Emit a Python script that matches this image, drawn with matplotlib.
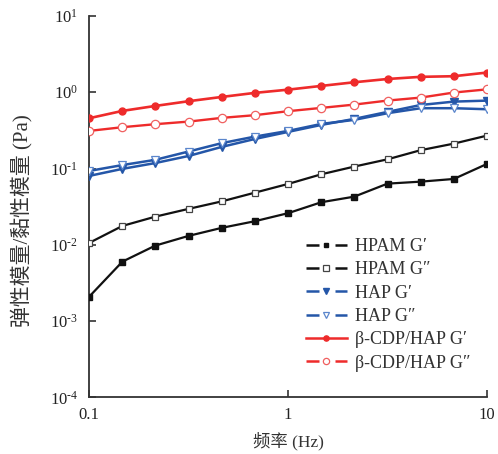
import matplotlib
matplotlib.use("Agg")
import matplotlib.pyplot as plt
from matplotlib.lines import Line2D
from matplotlib.ticker import FixedLocator, FixedFormatter, NullLocator

freq = [0.1, 0.147, 0.215, 0.316, 0.464, 0.681, 1.0, 1.47, 2.15, 3.16, 4.64, 6.81, 10.0]

hpam_g1 = [0.00209, 0.00603, 0.00977, 0.0131, 0.0167, 0.0204, 0.026, 0.0362, 0.0428, 0.0634, 0.0673, 0.073, 0.115]
hpam_g2 = [0.0106, 0.0177, 0.0234, 0.0296, 0.0371, 0.0483, 0.0628, 0.0841, 0.106, 0.132, 0.174, 0.212, 0.27]
hap_g1 = [0.080, 0.099, 0.118, 0.146, 0.192, 0.244, 0.302, 0.373, 0.447, 0.552, 0.68, 0.753, 0.776]
hap_g2 = [0.093, 0.111, 0.130, 0.167, 0.215, 0.262, 0.311, 0.384, 0.434, 0.531, 0.617, 0.617, 0.598]
cdp_g1 = [0.456, 0.569, 0.661, 0.762, 0.867, 0.98, 1.08, 1.21, 1.35, 1.49, 1.59, 1.62, 1.81]
cdp_g2 = [0.311, 0.348, 0.381, 0.412, 0.461, 0.50, 0.564, 0.623, 0.688, 0.777, 0.85, 0.99, 1.09]

labels = ["HPAM G\u2032", "HPAM G\u2033", "HAP G\u2032", "HAP G\u2033",
          "\u03b2-CDP/HAP G\u2032", "\u03b2-CDP/HAP G\u2033"]

xticks = [0.1, 1, 10]
xticklabels = ["0.1", "1", "10"]
yticks = [1e-4, 1e-3, 1e-2, 1e-1, 1e0, 1e1]
yticklabels = [r"$10^{\text{-}4}$", r"$10^{\text{-}3}$", r"$10^{\text{-}2}$",
               r"$10^{\text{-}1}$", r"$10^{0}$", r"$10^{1}$"]

plt.rcParams['font.family'] = ['Liberation Serif', 'Noto Sans CJK SC', 'DejaVu Sans']
plt.rcParams['mathtext.fontset'] = 'custom'
plt.rcParams['mathtext.rm'] = 'Liberation Serif'
plt.rcParams['mathtext.it'] = 'Liberation Serif'
plt.rcParams['mathtext.default'] = 'rm'

fig = plt.figure(figsize=(4.98, 4.54), dpi=100)
ax = fig.add_axes([0.179, 0.1245, 0.799, 0.8405])

black = '#111111'
blue = '#2456a8'
red = '#ee2b2b'

series = [
    (hpam_g1, dict(color=black, marker='s', mfc=black, mec=black, ms=4.5, lw=1.6)),
    (hpam_g2, dict(color=black, marker='s', mfc='white', mec='#444444', ms=5, mew=0.9, lw=1.6)),
    (hap_g1, dict(color=blue, marker='v', mfc=blue, mec=blue, ms=5.5, lw=1.8)),
    (hap_g2, dict(color=blue, marker='v', mfc='white', mec='#5b86cc', ms=6, mew=0.9, lw=1.8)),
    (cdp_g1, dict(color=red, marker='o', mfc=red, mec=red, ms=5, lw=1.9)),
    (cdp_g2, dict(color=red, marker='o', mfc='white', mec='#f06060', ms=6, mew=0.9, lw=1.7)),
]
for vals, kw in series:
    ax.plot(freq, vals, zorder=3, **kw)

ax.set_xscale('log')
ax.set_yscale('log')
ax.set_xlim(0.1, 10)
ax.set_ylim(1e-4, 10)
ax.xaxis.set_major_locator(FixedLocator(xticks))
ax.xaxis.set_major_formatter(FixedFormatter(xticklabels))
ax.xaxis.set_minor_locator(NullLocator())
ax.yaxis.set_major_locator(FixedLocator(yticks))
ax.yaxis.set_major_formatter(FixedFormatter(yticklabels))
ax.yaxis.set_minor_locator(NullLocator())

for s in ['top', 'right']:
    ax.spines[s].set_visible(False)
for s in ['left', 'bottom']:
    ax.spines[s].set_linewidth(1.3)
    ax.spines[s].set_color('#333333')
ax.tick_params(direction='in', length=5, width=1.2, colors='#333333', labelsize=12,
               labelcolor='#222222', pad=7)
ax.tick_params(axis='y', pad=8)

ax.set_xlabel("频率 (Hz)", fontsize=12.5, color='#333333', labelpad=6)
ax.set_ylabel("弹性模量/黏性模量 (Pa)", fontsize=15, color='#333333')
ax.yaxis.set_label_coords(-0.142, 0.463)

handles = []
for (vals, kw), lab in zip(series, labels):
    ls = '-' if lab == labels[4] else (0, (5.2, 6.4))
    h = Line2D([], [], color=kw['color'], marker=kw['marker'], mfc=kw['mfc'], mec=kw['mec'],
               ms=kw['ms'] * 0.75, mew=kw.get('mew', 1.0), lw=1.8, linestyle=ls)
    handles.append(h)
leg = ax.legend(handles, labels, loc='lower right', bbox_to_anchor=(1.0, 0.025), frameon=False,
                fontsize=13, handlelength=2.3, handletextpad=0.45, labelspacing=0.35)
for t in leg.get_texts():
    t.set_color('#333333')

fig.savefig('out.png', dpi=100)
